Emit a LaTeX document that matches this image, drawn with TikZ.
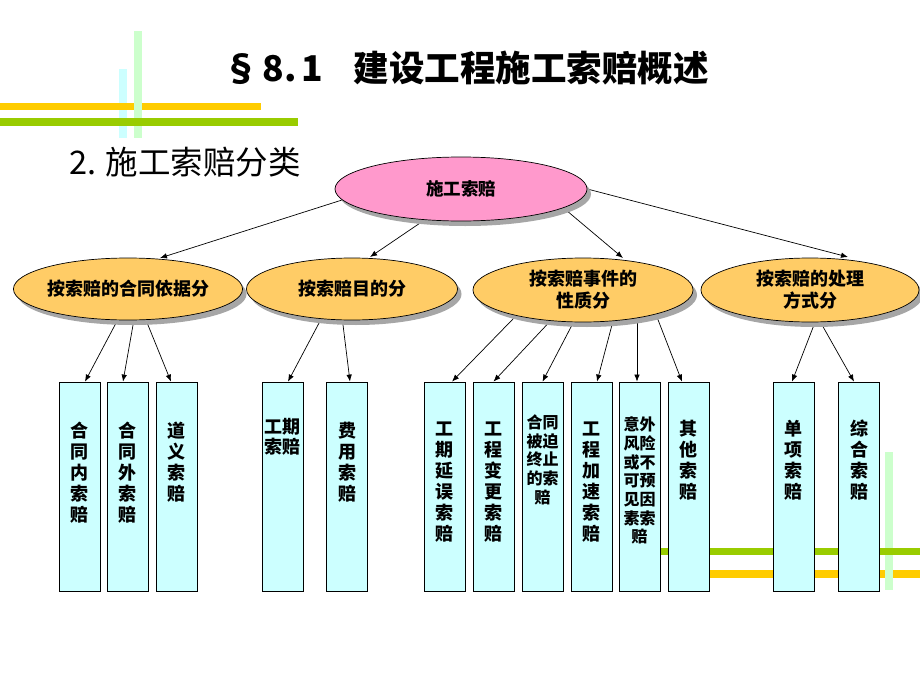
\documentclass[tikz,border=0pt]{standalone}
\usepackage{fontspec}
\setmainfont{Liberation Sans}
\newfontfamily\cjk{Noto Sans CJK SC}
\usetikzlibrary{shapes.geometric,shadows,arrows.meta,calc,backgrounds}
\definecolor{pinkfill}{HTML}{FF99CC}
\definecolor{orfill}{HTML}{FFCC66}
\definecolor{boxfill}{HTML}{CCFFFF}
\definecolor{baryellow}{HTML}{FFCC00}
\definecolor{bargreen}{HTML}{99CC00}
\definecolor{barcyan}{HTML}{CCFFFF}
\definecolor{barlgreen}{HTML}{CCFFCC}
\tikzset{
  shad/.style={drop shadow={shadow xshift=4pt,shadow yshift=-5pt,fill=black!35,opacity=1}},
  rootell/.style={ellipse,draw,line width=0.7pt,fill=pinkfill,shad,inner sep=0,
    minimum width=252pt,minimum height=64pt,font=\cjk\bfseries\fontsize{17.5}{21}\selectfont},
  catell/.style={ellipse,draw,line width=0.7pt,fill=orfill,shad,inner sep=0,align=center,
    minimum width=220pt,minimum height=62pt,font=\cjk\bfseries\fontsize{18}{22}\selectfont},
  leafbox/.style={rectangle,draw,line width=0.8pt,fill=boxfill,inner sep=0,
    minimum width=41pt,minimum height=209pt},
  btxt/.style={anchor=north,inner sep=0,align=center,font=\cjk\bfseries\fontsize{18}{21}\selectfont},
  stxt/.style={anchor=north,inner sep=0,align=center,font=\cjk\bfseries\fontsize{16}{18.7}\selectfont},
  arr/.style={line width=0.7pt,-{Latex[length=7pt,width=5.5pt]}}
}
\begin{document}
\begin{tikzpicture}[x=1pt,y=-1pt]
\useasboundingbox (0,0) rectangle (920,690);
\begin{scope}[on background layer]
\fill[white] (0,0) rectangle (920,690);
\end{scope}
% decorative bars top-left
\fill[barcyan] (119,69) rectangle (127,138);
\fill[baryellow] (0,103) rectangle (261,110);
\fill[barlgreen] (134,31) rectangle (142,138);
\fill[bargreen] (0,118) rectangle (298,126);
% decorative bars bottom-right
\fill[baryellow] (710,570) rectangle (920,578);
\fill[barlgreen] (885,452) rectangle (893,590);
\fill[bargreen] (650,548) rectangle (920,555);

% titles
\node[font=\cjk\bfseries\fontsize{35.5}{40}\selectfont,inner sep=0] (title) at (466,68) {§\hspace{4pt}8.\hspace{5pt}1\hspace{30pt}建设工程施工索赔概述};
\node[font=\cjk\fontsize{32.5}{36}\selectfont,anchor=west,inner sep=0] (sub) at (69,162) {2. 施工索赔分类};

% ellipses
\node[rootell] (root) at (461,189) {施工索赔};
\node[catell] (e1) at (128,289) {按索赔的合同依据分};
\node[catell,minimum width=211pt] (e2) at (352,289) {按索赔目的分};
\node[catell,minimum height=64pt] (e3) at (583,290) {按索赔事件的\\性质分};
\node[catell,minimum width=218pt,minimum height=64pt] (e4) at (810,290) {按索赔的处理\\方式分};

% boxes
\node[leafbox] (b1) at (79.5,486.5) {};
\node[leafbox] (b2) at (127.5,486.5) {};
\node[leafbox] (b3) at (176.5,486.5) {};
\node[leafbox] (b4) at (282.5,486.5) {};
\node[leafbox] (b5) at (347,486.5) {};
\node[leafbox] (b6) at (444.5,486.5) {};
\node[leafbox] (b7) at (493.5,486.5) {};
\node[leafbox] (b8) at (542.5,486.5) {};
\node[leafbox] (b9) at (591.5,486.5) {};
\node[leafbox] (b10) at (639.5,486.5) {};
\node[leafbox] (b11) at (688.5,486.5) {};
\node[leafbox] (b12) at (793.5,486.5) {};
\node[leafbox] (b13) at (859,486.5) {};

% box texts
\node[btxt] (t1) at ($(b1.north)+(0,40)$) {合\\同\\内\\索\\赔};
\node[btxt] (t2) at ($(b2.north)+(0,40)$) {合\\同\\外\\索\\赔};
\node[btxt] (t3) at ($(b3.north)+(0,40)$) {道\\义\\索\\赔};
\node[btxt,font=\cjk\bfseries\fontsize{18}{20}\selectfont] (t4) at ($(b4.north)+(0,37)$) {工期\\索赔};
\node[btxt] (t5) at ($(b5.north)+(0,40)$) {费\\用\\索\\赔};
\node[btxt] (t6) at ($(b6.north)+(0,40)$) {工\\期\\延\\误\\索\\赔};
\node[btxt] (t7) at ($(b7.north)+(0,40)$) {工\\程\\变\\更\\索\\赔};
\node[stxt] (t8) at ($(b8.north)+(0,33)$) {合同\\被迫\\终止\\的索\\赔};
\node[btxt] (t9) at ($(b9.north)+(0,40)$) {工\\程\\加\\速\\索\\赔};
\node[stxt] (t10) at ($(b10.north)+(0,35)$) {意外\\风险\\或不\\可预\\见因\\素索\\赔};
\node[btxt] (t11) at ($(b11.north)+(0,38)$) {其\\他\\索\\赔};
\node[btxt] (t12) at ($(b12.north)+(0,38)$) {单\\项\\索\\赔};
\node[btxt] (t13) at ($(b13.north)+(0,38)$) {综\\合\\索\\赔};

% connectors (behind nodes)
\begin{scope}[on background layer]
\draw[arr] ($(root.center)+(-119,11)$) -- ($(e1.center)+(32,-31)$);
\draw[arr] ($(root.center)+(-35,30)$) -- ($(e2.center)+(18,-32)$);
\draw[arr] ($(root.center)+(99,16)$) -- ($(e3.center)+(40,-32)$);
\draw[arr] ($(root.center)+(124,-0.6)$) -- ($(e4.center)+(38,-33)$);

\draw[arr] ($(e1.center)+(-5.6,22)$) -- ($(b1.north)+(5.5,0)$);
\draw[arr] ($(e1.center)+(7.5,22)$) -- ($(b2.north)+(-4.5,0)$);
\draw[arr] ($(e1.center)+(14.3,22)$) -- ($(b3.north)+(-5.5,0)$);

\draw[arr] ($(e2.center)+(-26.6,22)$) -- ($(b4.north)+(5.5,0)$);
\draw[arr] ($(e2.center)+(-10.7,22)$) -- ($(b5.north)+(3,0)$);

\draw[arr] ($(e3.center)+(-63.2,22)$) -- ($(b6.north)+(7.5,0)$);
\draw[arr] ($(e3.center)+(-24.2,22)$) -- ($(b7.north)+(0,0)$);
\draw[arr] ($(e3.center)+(-4.2,22)$) -- ($(b8.north)+(0,0)$);
\draw[arr] ($(e3.center)+(32.4,22)$) -- ($(b9.north)+(5.5,0)$);
\draw[arr] ($(e3.center)+(54,22)$) -- ($(b10.north)+(-2.5,0)$);
\draw[arr] ($(e3.center)+(72,22)$) -- ($(b11.north)+(-6.5,0)$);

\draw[arr] ($(e4.center)+(9,22)$) -- ($(b12.north)+(-1.5,0)$);
\draw[arr] ($(e4.center)+(4.7,22)$) -- ($(b13.north)+(-5,0)$);
\end{scope}
\end{tikzpicture}
\end{document}
